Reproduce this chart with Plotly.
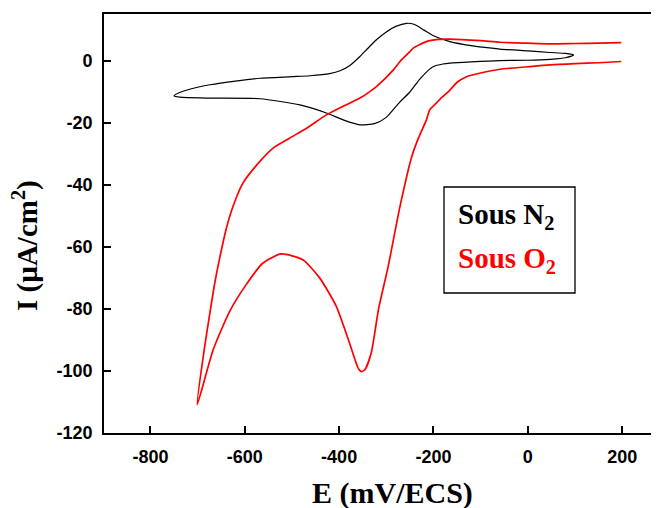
import plotly.graph_objects as go

# ---- data ----
# N2 cyclic voltammogram: cathodic sweep (x decreasing) then anodic return
n2_E = [97, 80, 47, 0, -59, -120, -165, -180, -200, -210, -229, -251, -271, -300, -325, -356, -390,
        -427, -483, -568, -674, -738, -750,
        -738, -700, -674, -620, -568, -500, -462, -420, -398, -378, -356, -340, -321, -300, -280,
        -257, -240, -220, -200, -165, -120, -59, 0, 47, 80, 97]
n2_I = [1.8, 0.9, 0.4, 0.1, 0.0, -0.4, -0.8, -1.1, -1.9, -3.0, -6.0, -10.3, -13.3, -18.3, -20.3, -20.7, -19.2,
        -16.9, -14.3, -12.3, -12.1, -11.8, -11.4,
        -10.3, -8.6, -7.8, -6.6, -5.7, -5.2, -4.9, -4.2, -3.3, -1.7, 1.3, 3.8, 6.7, 9.2, 11.0,
        12.0, 11.6, 9.8, 8.0, 6.1, 4.8, 3.7, 3.1, 2.6, 2.3, 1.8]

# O2 cyclic voltammogram: cathodic sweep from +200 to -700, then return
o2_E = [198, 150, 100, 47, 0, -59, -100, -130, -150, -165, -172, -186, -194, -208, -215, -232, -246,
        -271, -296, -316, -332, -345, -353, -360, -378, -406, -441, -477, -523, -562, -597, -632,
        -667, -701,
        -685, -674, -664, -653, -639, -625, -604, -568, -540, -505, -469, -427, -390, -356, -335,
        -321, -285, -271, -250, -243, -215, -190, -165, -100, -59, 0, 47, 100, 150, 198]
o2_I = [-0.3, -0.7, -1.0, -1.4, -2.0, -2.8, -4.0, -5.2, -7.0, -9.5, -10.5, -12.4, -13.7, -15.9, -19.1, -25.0, -30.9,
        -47.0, -66.3, -79.7, -94.2, -99.5, -100.2, -99.0, -91.0, -79.2, -70.1, -64.2, -62.3, -65.3, -72.2, -80.8,
        -93.2, -110.9,
        -92.1, -81.4, -72.0, -63.5, -54.0, -47.0, -39.5, -32.5, -28.2, -25.0, -21.8, -17.5, -14.6, -12.1, -10.0,
        -8.4, -3.0, -0.3, 2.9, 4.0, 6.1, 6.8, 6.9, 6.4, 5.9, 5.6, 5.4, 5.5, 5.6, 5.8]

x_ticks = [-800, -600, -400, -200, 0, 200]
y_ticks = [-120, -100, -80, -60, -40, -20, 0]
x_range = [-898.4, 278]
y_range = [-120, 15]

# ---- layout geometry (pixels); the page body adds an 8px offset ----
OFF = 8
W, H = 659 - OFF, 508 - OFF
L, R, T = 104 - OFF, 0, 14 - OFF
B = H - (433 - OFF)
PW, PH = W - L - R, H - T - B


def px(xp):
    return (xp - OFF - L) / PW


def py(yp):
    return (H - B - (yp - OFF)) / PH


fig = go.Figure()
fig.add_trace(go.Scatter(x=n2_E, y=n2_I, mode="lines",
                         line=dict(color="black", width=1.2, shape="spline", smoothing=0.6),
                         showlegend=False))
fig.add_trace(go.Scatter(x=o2_E, y=o2_I, mode="lines",
                         line=dict(color="#ff0000", width=1.7, shape="spline", smoothing=0.6),
                         showlegend=False))

axis_common = dict(showline=True, linecolor="black", linewidth=1.8, ticks="inside", ticklen=7,
                   tickwidth=1.8, tickcolor="black", showgrid=False, zeroline=False,
                   tickfont=dict(family="Liberation Sans", size=18, color="black", weight="bold"))

fig.update_xaxes(range=x_range, tickvals=x_ticks, ticktext=[str(v) for v in x_ticks],
                 mirror=True, ticklabelstandoff=6, **axis_common)
fig.update_yaxes(range=y_range, tickvals=y_ticks, ticktext=[str(v) for v in y_ticks],
                 mirror=False, ticklabelstandoff=6, **axis_common)

serif = dict(family="Liberation Serif", size=30, color="black", weight="bold")

annotations = [
    dict(text="E (mV/ECS)", xref="paper", yref="paper", x=px(392), y=py(493),
         xanchor="center", yanchor="middle", showarrow=False, font=serif),
    dict(text="I (µA/cm<sup>2</sup>)", xref="paper", yref="paper", x=px(26), y=py(246),
         xanchor="center", yanchor="middle", textangle=-90, showarrow=False,
         font=dict(family="Liberation Serif", size=29, color="black", weight="bold")),
    dict(text="Sous N<sub>2</sub>", xref="paper", yref="paper", x=px(456), y=py(216),
         xanchor="left", yanchor="middle", showarrow=False,
         font=dict(family="Liberation Serif", size=29, color="black", weight="bold")),
    dict(text="Sous O<sub>2</sub>", xref="paper", yref="paper", x=px(456), y=py(260),
         xanchor="left", yanchor="middle", showarrow=False,
         font=dict(family="Liberation Serif", size=29, color="#ff0000", weight="bold")),
]

shapes = [dict(type="rect", xref="paper", yref="paper", x0=px(444), x1=px(575), y0=py(293), y1=py(187),
               line=dict(color="black", width=1.3), fillcolor="rgba(0,0,0,0)")]

fig.update_layout(width=W, height=H, margin=dict(l=L, r=R, t=T, b=B, pad=0),
                  plot_bgcolor="white", paper_bgcolor="white",
                  annotations=annotations, shapes=shapes, showlegend=False)

fig.write_html("out.html")
